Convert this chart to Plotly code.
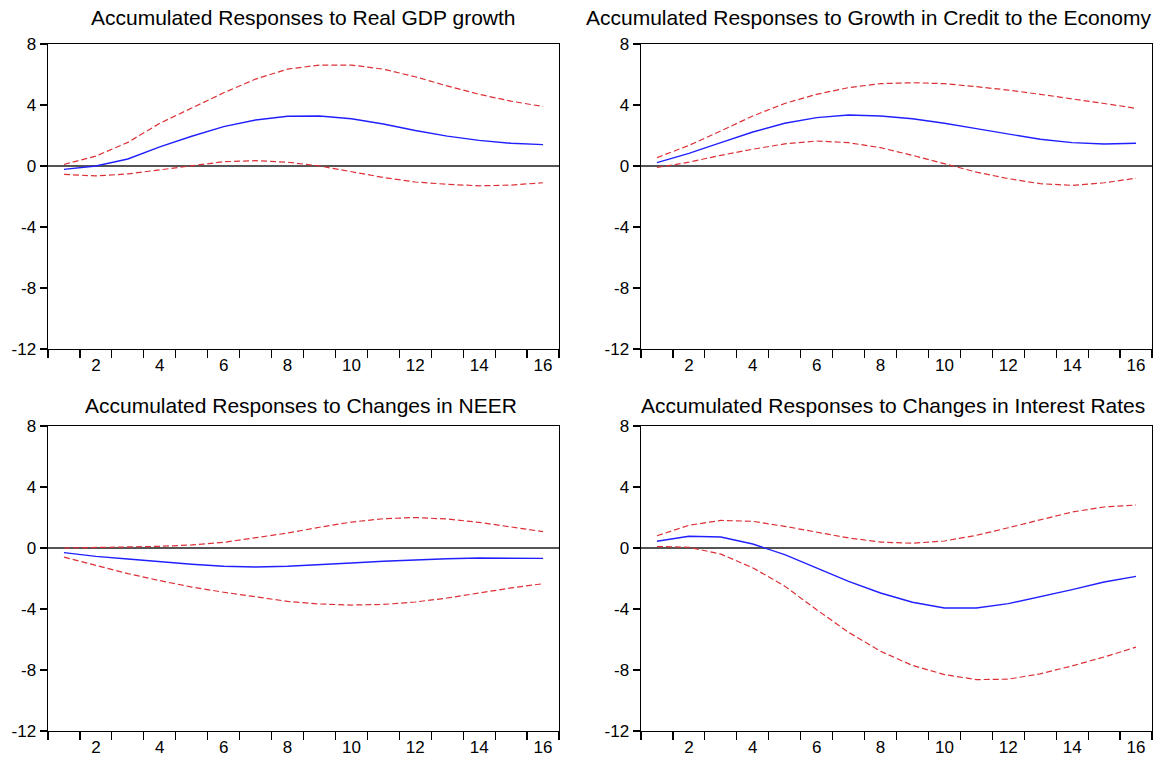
import plotly.graph_objects as go

W, H = 1172, 759

periods = list(range(1, 17))

titles = [
    "Accumulated Responses to Real GDP growth",
    "Accumulated Responses to Growth in Credit to the Economy",
    "Accumulated Responses to Changes in NEER",
    "Accumulated Responses to Changes in Interest Rates",
]

# Panel 1: Real GDP growth
gdp_resp = [-0.22, 0.0, 0.46, 1.25, 1.95, 2.58, 3.02, 3.26, 3.28, 3.1, 2.75, 2.33, 1.96, 1.68, 1.49, 1.40]
gdp_up = [0.1, 0.65, 1.55, 2.8, 3.8, 4.8, 5.7, 6.35, 6.62, 6.62, 6.35, 5.85, 5.25, 4.7, 4.25, 3.9]
gdp_lo = [-0.55, -0.65, -0.52, -0.25, 0.05, 0.28, 0.35, 0.25, 0.0, -0.4, -0.75, -1.05, -1.2, -1.3, -1.25, -1.1]

# Panel 2: Growth in credit
cred_resp = [0.22, 0.83, 1.53, 2.23, 2.8, 3.17, 3.34, 3.28, 3.1, 2.8, 2.45, 2.08, 1.75, 1.53, 1.44, 1.49]
cred_up = [0.55, 1.35, 2.3, 3.28, 4.1, 4.7, 5.14, 5.4, 5.46, 5.4, 5.2, 4.98, 4.7, 4.42, 4.1, 3.78]
cred_lo = [-0.1, 0.25, 0.7, 1.1, 1.45, 1.64, 1.53, 1.2, 0.7, 0.17, -0.4, -0.83, -1.16, -1.27, -1.1, -0.8]

# Panel 3: NEER
neer_resp = [-0.3, -0.55, -0.72, -0.9, -1.07, -1.2, -1.25, -1.2, -1.11, -0.98, -0.87, -0.77, -0.7, -0.66, -0.66, -0.68]
neer_up = [0.0, 0.02, 0.07, 0.11, 0.2, 0.37, 0.66, 0.98, 1.36, 1.7, 1.92, 2.0, 1.9, 1.68, 1.38, 1.07]
neer_lo = [-0.6, -1.16, -1.68, -2.14, -2.56, -2.9, -3.2, -3.5, -3.67, -3.74, -3.7, -3.54, -3.28, -2.95, -2.62, -2.34]

# Panel 4: Interest rates
rate_resp = [0.44, 0.77, 0.72, 0.26, -0.44, -1.3, -2.19, -2.95, -3.56, -3.93, -3.93, -3.65, -3.2, -2.73, -2.23, -1.86]
rate_up = [0.8, 1.49, 1.81, 1.75, 1.42, 1.03, 0.66, 0.39, 0.31, 0.46, 0.83, 1.33, 1.86, 2.36, 2.69, 2.82]
rate_lo = [0.1, 0.05, -0.4, -1.3, -2.5, -4.05, -5.53, -6.77, -7.7, -8.3, -8.63, -8.6, -8.25, -7.73, -7.15, -6.5]

panels = [
    (gdp_resp, gdp_up, gdp_lo),
    (cred_resp, cred_up, cred_lo),
    (neer_resp, neer_up, neer_lo),
    (rate_resp, rate_up, rate_lo),
]

x_ticklabels = [2, 4, 6, 8, 10, 12, 14, 16]
y_ticks = [-12, -8, -4, 0, 4, 8]

# pixel layout of the four plot frames (left, right, top, bottom)
frames = [
    (48, 559, 44, 349),
    (641, 1152, 44, 349),
    (48, 559, 426, 731),
    (641, 1152, 426, 731),
]
title_pos = [(303, 17.6), (868, 17.6), (301, 405.3), (893, 405.3)]

FONT = "Liberation Sans, Arial, sans-serif"
BLUE = "#2020FF"
RED = "#DC3036"


def px(xpix):
    return xpix / W


def py(ypix):
    return 1 - ypix / H


fig = go.Figure()
layout = dict(
    width=W, height=H,
    margin=dict(l=0, r=0, t=0, b=0, autoexpand=False),
    paper_bgcolor="white", plot_bgcolor="white",
    showlegend=False,
    font=dict(family=FONT, size=17, color="black"),
)

annotations = []
for i, ((resp, up, lo), (l, r, t, b)) in enumerate(zip(panels, frames)):
    n = i + 1
    xa = "x" if n == 1 else f"x{n}"
    ya = "y" if n == 1 else f"y{n}"
    for series, color, dash, width in [
        (up, RED, "6px,3px", 1.2),
        (lo, RED, "6px,3px", 1.2),
        (resp, BLUE, "solid", 1.4),
    ]:
        fig.add_trace(go.Scatter(
            x=periods, y=series, mode="lines", xaxis=xa, yaxis=ya,
            line=dict(color=color, width=width, dash=dash),
            hoverinfo="skip",
        ))
    xkey = "xaxis" if n == 1 else f"xaxis{n}"
    ykey = "yaxis" if n == 1 else f"yaxis{n}"
    layout[xkey] = dict(
        domain=[px(l), px(r)], anchor=ya, automargin=False,
        range=[0.5, 16.5],
        tickmode="array", tickvals=x_ticklabels,
        ticktext=[str(v) for v in x_ticklabels],
        ticks="", showgrid=False, zeroline=False,
        showline=True, linecolor="black", linewidth=1.4, mirror=True,
        tickfont=dict(size=17, family=FONT, color="black"),
        minor=dict(tick0=0.5, dtick=1, ticks="outside", ticklen=8,
                   tickcolor="black", tickwidth=1.2, showgrid=False),
    )
    layout[ykey] = dict(
        domain=[py(b), py(t)], anchor=xa, automargin=False,
        range=[-12, 8],
        tickmode="array", tickvals=y_ticks,
        ticktext=[str(v) for v in y_ticks],
        ticks="outside", ticklen=7, tickcolor="black", tickwidth=1.2,
        showgrid=False,
        zeroline=True, zerolinecolor="#555555", zerolinewidth=1.6,
        showline=True, linecolor="black", linewidth=1.4, mirror=True,
        tickfont=dict(size=17, family=FONT, color="black"),
    )
    tx, ty = title_pos[i]
    annotations.append(dict(
        text=titles[i], xref="paper", yref="paper",
        x=px(tx), y=py(ty), xanchor="center", yanchor="middle",
        showarrow=False, font=dict(size=21, family=FONT, color="black"),
    ))

layout["annotations"] = annotations
fig.update_layout(**layout)
fig.write_html(
    "out.html",
    config=dict(displayModeBar=False, staticPlot=True),
    post_script="document.body.style.margin='0px';document.body.style.overflow='hidden';",
)
